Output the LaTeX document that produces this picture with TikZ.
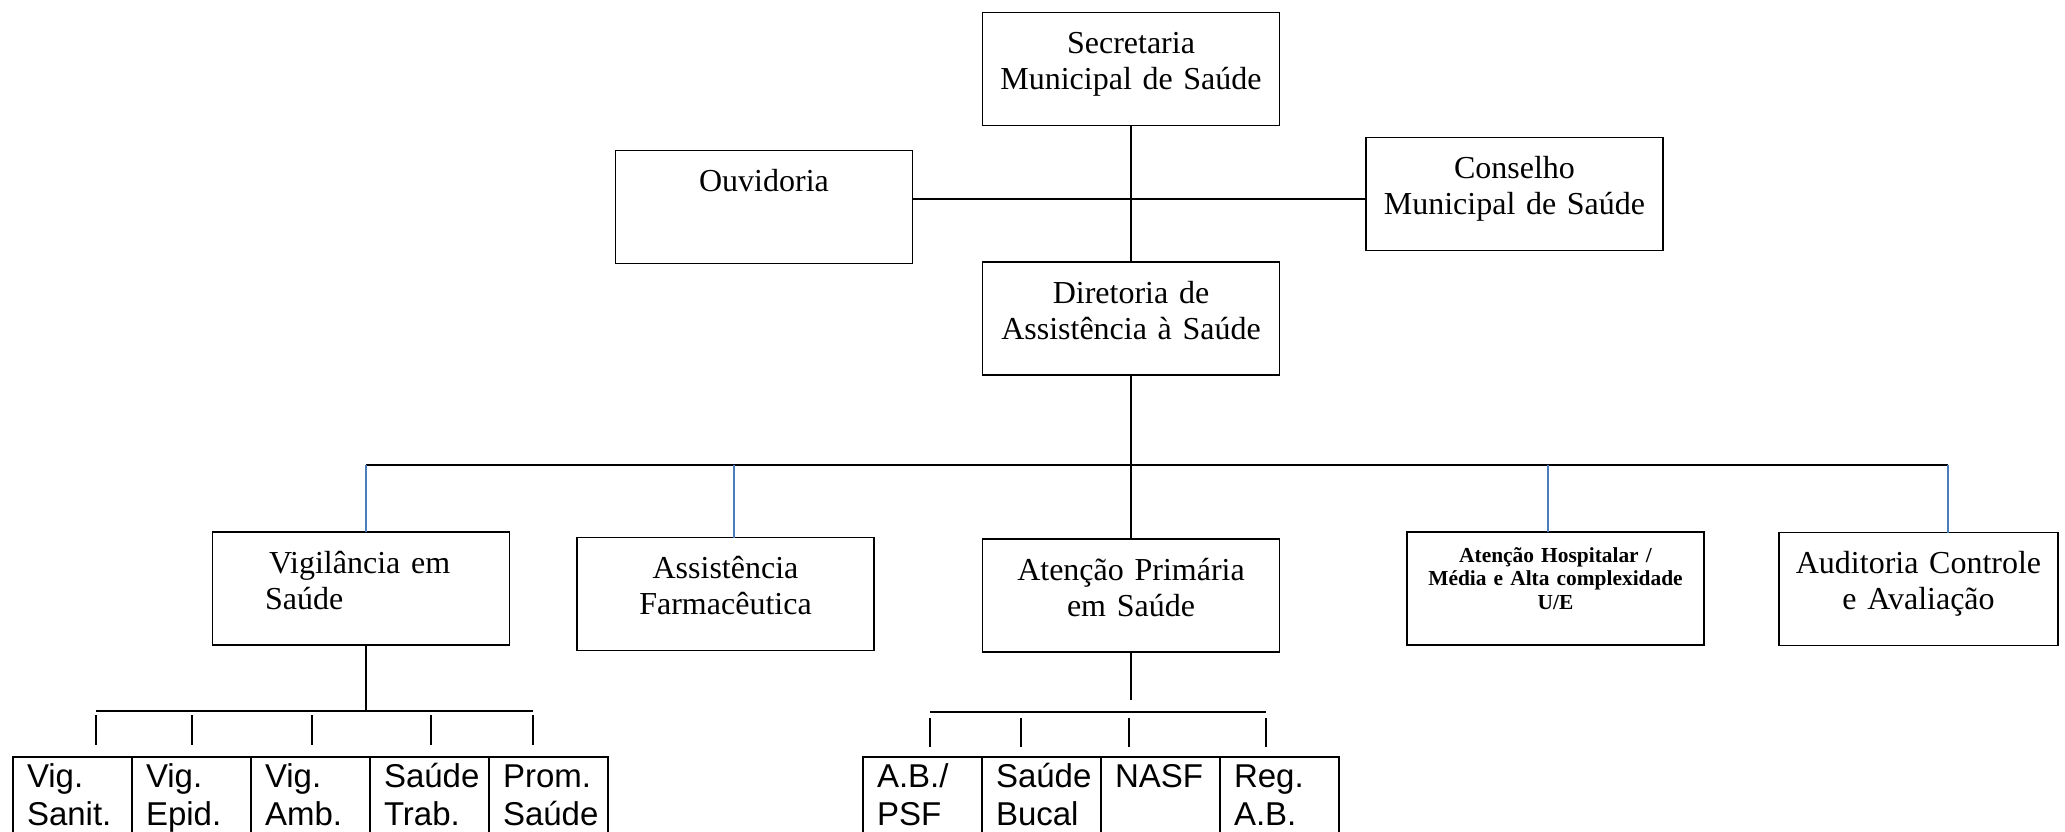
\documentclass[tikz,border=0pt]{standalone}
\usepackage{fontspec}
\setmainfont{Liberation Serif}
\newfontfamily\arialfont{Liberation Sans}
\definecolor{linkblue}{HTML}{4A7EBB}
\hyphenpenalty=10000

\begin{document}
\begin{tikzpicture}[x=0.5pt,y=-0.5pt,
  unit/.style={draw,line width=0.75pt,minimum width=148.5pt,minimum height=56.5pt,inner xsep=4pt,inner ysep=0pt,outer sep=0pt,text width=140pt,align=center,text height=20.5pt,text depth=36pt,font=\fontsize{16}{18}\selectfont},
  cell/.style={draw,line width=0.75pt,minimum width=59.5pt,inner xsep=7pt,inner ysep=0pt,outer sep=0pt,text width=45.5pt,align=left,text height=15pt,text depth=35pt,anchor=north west,font=\arialfont\fontsize{16.5}{19}\selectfont},
  link/.style={line width=0.8pt},
  bus/.style={line width=1pt},
  drop/.style={draw=linkblue,line width=0.8pt}]
\useasboundingbox (0,0) rectangle (2065,831);
\clip (0,0) rectangle (2065,831);
% top level
\node[unit] (sec) at (1131,69) {Secretaria\\Municipal de Saúde};
\node[unit] (ouv) at (764,207) {Ouvidoria};
\node[unit] (cons) at (1514.5,194) {Conselho\\Municipal de Saúde};
\node[unit] (dir) at (1131,318.5) {Diretoria de\\Assistência à Saúde};
% second level
\node[unit,text width=96pt,align=left] (vig) at (361,588.5) {\hspace*{2pt}Vigilância em\\Saúde};
\node[unit] (farm) at (725.5,594) {Assistência\\Farmacêutica};
\node[unit] (ap) at (1131,595.5) {Atenção Primária\\em Saúde};
\node[unit,text height=15pt,text depth=41.5pt,font=\bfseries\fontsize{10.7}{11.85}\selectfont] (hosp) at (1555.5,588.5) {Atenção Hospitalar /\\Média e Alta complexidade\\U/E};
\node[unit,minimum width=139.5pt,text width=131pt] (aud) at (1918.5,589) {Auditoria Controle\\e Avaliação};
% third level
\foreach \lbl [count=\k] in {{Vig.\\Sanit.},{Vig.\\Epid.},{Vig.\\Amb.},{Saúde\\Trab.},{Prom.\\Saúde}} {
  \node[cell] (vs\k) at ({13+119*(\k-1)},757) {\lbl};
}
\foreach \lbl [count=\k] in {{A.B./\\PSF},{Saúde\\Bucal},{NASF},{Reg.\\A.B.}} {
  \node[cell] (ab\k) at ({863+119*(\k-1)},757) {\lbl};
}

\coordinate (cross) at (1131,199);
\draw[link] (sec) -- (dir);
\draw[link] (cross -| ouv.east) -- (cross -| cons.west);
\draw[link] (dir) -- (ap);
% main bus
\coordinate (busL) at (366,465);
\coordinate (busR) at (1948,465);
\draw[bus] (busL) -- (busR);
\foreach \x/\n in {366/vig,734/farm,1548/hosp,1948/aud} {
  \draw[drop] (\x,465) -- (\x,0 |- \n.north);
}
% vigilancia branch
\coordinate (vsL) at (96,711);
\coordinate (vsR) at (533,711);
\draw[link] (366,0 |- vig.south) -- (366,711);
\draw[bus] (vsL) -- (vsR);
\foreach \x in {96,192,312,431,533} {
  \draw[link,shorten >=6pt] (\x,715) -- (\x,0 |- vs1.north);
}
% atencao primaria branch
\coordinate (abL) at (930,712);
\coordinate (abR) at (1266,712);
\draw[link] (ap) -- (1131,700);
\draw[bus] (abL) -- (abR);
\foreach \x in {930,1021,1129,1266} {
  \draw[link,shorten >=5pt] (\x,718) -- (\x,0 |- ab1.north);
}
\end{tikzpicture}
\end{document}
